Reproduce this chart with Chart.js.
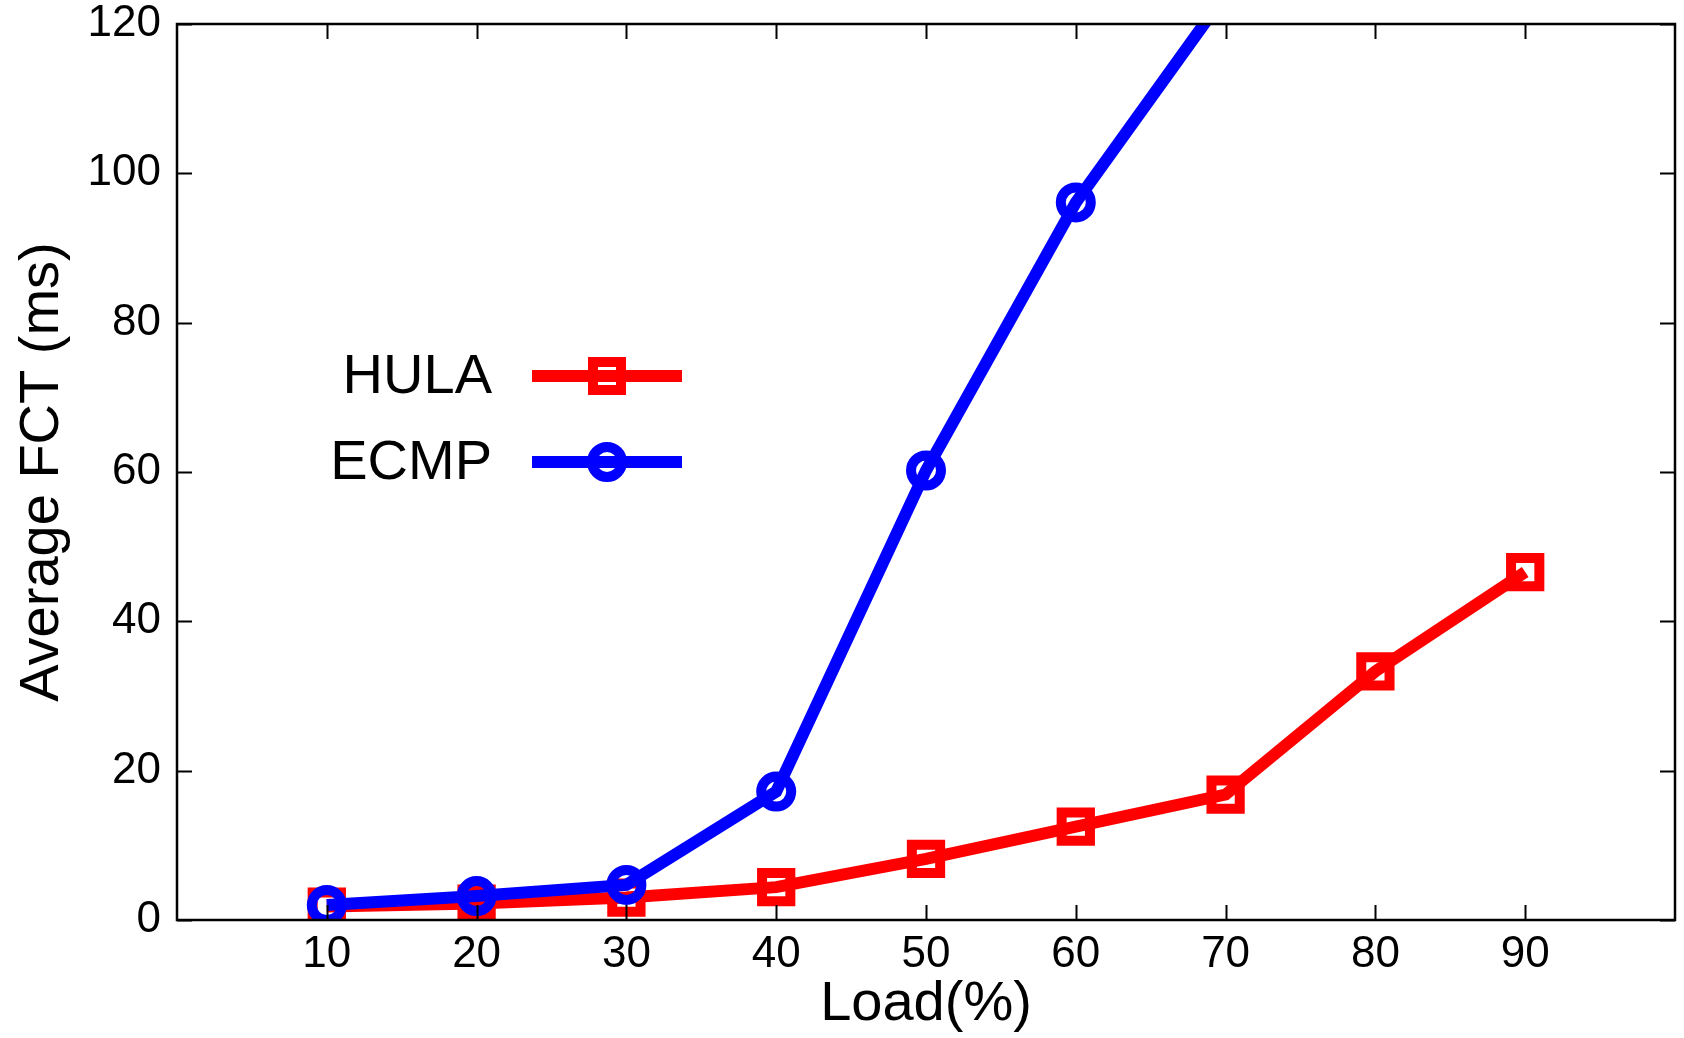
<!DOCTYPE html>
<html>
<head>
<meta charset="utf-8">
<script src="https://cdn.jsdelivr.net/npm/chart.js@4.4.1/dist/chart.umd.min.js"></script>
<style>
  html, body { margin: 0; padding: 0; background: #fff; }
  #wrap { width: 1684px; height: 1038px; }
</style>
</head>
<body>
<div id="wrap"><canvas id="fctChart" width="1684" height="1038"></canvas></div>
<script>
// datos
const loads = [10, 20, 30, 40, 50, 60, 70, 80, 90];
const hulaFct = [1.8, 2.2, 3.0, 4.4, 8.2, 12.5, 16.8, 33.3, 46.6];
const ecmpFct = [2.0, 3.2, 4.7, 17.2, 60.2, 96.1, 124];
const xTicks = [10, 20, 30, 40, 50, 60, 70, 80, 90];
const yTicks = [0, 20, 40, 60, 80, 100, 120];
const seriesNames = ['HULA', 'ECMP'];

const FONT = "'Liberation Sans', Arial, Helvetica, sans-serif";
const RED = '#ff0000';
const BLUE = '#0000ff';

// quitar el relleno automatico que chart.js pone por las etiquetas de los extremos
function noEdgePadding(s) {
    s.paddingTop = 0; s.paddingBottom = 0;
    s.paddingLeft = 0; s.paddingRight = 0;
}

// marco y marcas hacia dentro, estilo gnuplot
const framePlugin = {
    id: 'frame',
    afterDatasetsDraw(chart) {
        const { ctx, chartArea: a, scales } = chart;
        const len = 15;
        ctx.save();
        ctx.strokeStyle = '#000';
        ctx.lineWidth = 2;
        ctx.beginPath();
        xTicks.forEach(v => {
            const px = Math.round(scales.x.getPixelForValue(v)) + 0.5;
            ctx.moveTo(px, a.bottom); ctx.lineTo(px, a.bottom - len);
            ctx.moveTo(px, a.top); ctx.lineTo(px, a.top + len);
        });
        yTicks.forEach(v => {
            const py = Math.round(scales.y.getPixelForValue(v)) + 0.5;
            ctx.moveTo(a.left, py); ctx.lineTo(a.left + len, py);
            ctx.moveTo(a.right, py); ctx.lineTo(a.right - len, py);
        });
        ctx.stroke();
        ctx.lineWidth = 2.5;
        ctx.strokeRect(a.left, a.top, a.right - a.left, a.bottom - a.top);
        ctx.restore();
    }
};

// leyenda dentro del area, texto a la izquierda de la muestra
const legendPlugin = {
    id: 'insideLegend',
    afterDraw(chart) {
        const { ctx } = chart;
        const rows = [
            { name: seriesNames[0], color: RED, shape: 'rect', y: 376 },
            { name: seriesNames[1], color: BLUE, shape: 'circle', y: 462 }
        ];
        ctx.save();
        rows.forEach(r => {
            ctx.fillStyle = '#000';
            ctx.font = '56px ' + FONT;
            ctx.textAlign = 'right';
            ctx.textBaseline = 'middle';
            ctx.fillText(r.name, 492, r.y + 2);
            ctx.strokeStyle = r.color;
            ctx.lineWidth = 12;
            ctx.beginPath();
            ctx.moveTo(532, r.y); ctx.lineTo(682, r.y);
            ctx.stroke();
            ctx.lineWidth = 10;
            ctx.beginPath();
            if (r.shape === 'rect') {
                ctx.rect(607 - 14, r.y - 14, 28, 28);
            } else {
                ctx.arc(607, r.y, 15, 0, Math.PI * 2);
            }
            ctx.stroke();
        });
        ctx.restore();
    }
};

const ctx = document.getElementById('fctChart').getContext('2d');
new Chart(ctx, {
    type: 'line',
    data: {
        datasets: [{
            label: seriesNames[0],
            data: loads.map((x, i) => ({ x: x, y: hulaFct[i] })),
            borderColor: RED,
            borderWidth: 12,
            pointStyle: 'rect',
            pointRadius: 20,
            pointBorderWidth: 10,
            pointBorderColor: RED,
            pointBackgroundColor: 'rgba(0,0,0,0)',
            tension: 0,
            order: 1
        }, {
            label: seriesNames[1],
            data: loads.slice(0, ecmpFct.length).map((x, i) => ({ x: x, y: ecmpFct[i] })),
            borderColor: BLUE,
            borderWidth: 12,
            pointStyle: 'circle',
            pointRadius: 15,
            pointBorderWidth: 10,
            pointBorderColor: BLUE,
            pointBackgroundColor: 'rgba(0,0,0,0)',
            tension: 0,
            clip: 0,
            order: 0
        }]
    },
    options: {
        responsive: false,
        animation: false,
        layout: { autoPadding: false, padding: { left: 0, top: 24, right: 9, bottom: 0 } },
        scales: {
            x: {
                type: 'linear',
                min: 0, max: 100,
                afterBuildTicks: s => { s.ticks = xTicks.map(v => ({ value: v })); },
                afterFit: s => { s.height = 118; noEdgePadding(s); },
                grid: { display: false, drawTicks: false },
                border: { display: false },
                ticks: { color: '#000', font: { family: FONT, size: 44 }, padding: 8, maxRotation: 0 },
                title: { display: true, text: 'Load(%)', color: '#000', font: { family: FONT, size: 56 }, padding: { top: 0, bottom: 0 } }
            },
            y: {
                min: 0, max: 120,
                afterBuildTicks: s => { s.ticks = yTicks.map(v => ({ value: v })); },
                afterFit: s => { s.width = 177; noEdgePadding(s); },
                grid: { display: false, drawTicks: false },
                border: { display: false },
                ticks: { color: '#000', font: { family: FONT, size: 44 }, padding: 16 },
                title: { display: true, text: 'Average FCT (ms)', color: '#000', font: { family: FONT, size: 56 }, padding: { top: 9, bottom: 0 } }
            }
        },
        plugins: { legend: { display: false }, tooltip: { enabled: false } }
    },
    plugins: [framePlugin, legendPlugin]
});
</script>
</body>
</html>
